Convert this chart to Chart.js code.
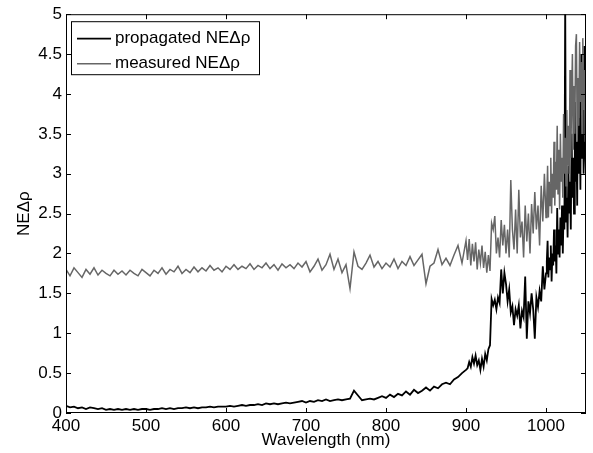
<!DOCTYPE html>
<html><head><meta charset="utf-8">
<script src="https://cdn.jsdelivr.net/npm/chart.js@4"></script>
<style>html,body{margin:0;padding:0;background:#fff}#wrap{width:593px;height:453px}</style>
</head><body><div id="wrap"><canvas id="c" width="593" height="453"></canvas></div>
<script>
const wavelengths = [
400,405,410,415,420,425,430,435,440,445,
450,455,460,465,470,475,480,485,490,495,
500,505,510,515,520,525,530,535,540,545,
550,555,560,565,570,575,580,585,590,595,
600,605,610,615,620,625,630,635,640,645,
650,655,660,665,670,675,680,685,690,695,
700,705,710,715,720,725,730,735,740,745,
750,755,760,765,770,775,780,785,790,795,
800,805,810,815,820,825,830,835,840,845,
850,855,860,865,870,875,880,885,890,895,
900,
902,904,906,908,910,912,914,916,918,920,
922,924,926,928,930,932,934,936,938,940,
942,944,946,948,950,952,954,956,958,960,
962,964,966,968,970,972,974,976,978,980,
982,984,986,988,990,992,994,996,998,1000,
1001,1002,1003,1004,1005,1006,1007,1008,1009,1010,
1011,1012,1013,1014,1015,1016,1017,1018,1019,1020,
1021,1022,1023,1024,1025,1026,1027,1028,1029,1030,
1031,1032,1033,1034,1035,1036,1037,1038,1039,1040,
1041,1042,1043,1044,1045,1046,1047,1048,1049,1050];

const propagated = [
0.09,0.07,0.08,0.06,0.07,0.05,0.07,0.06,0.05,0.06,
0.04,0.05,0.04,0.05,0.04,0.05,0.04,0.05,0.04,0.05,
0.05,0.04,0.05,0.05,0.06,0.05,0.06,0.05,0.06,0.06,
0.07,0.06,0.07,0.06,0.07,0.07,0.08,0.07,0.08,0.08,
0.08,0.09,0.08,0.09,0.10,0.09,0.10,0.10,0.11,0.10,
0.12,0.11,0.12,0.11,0.12,0.13,0.12,0.13,0.14,0.15,
0.13,0.15,0.14,0.16,0.15,0.17,0.15,0.16,0.17,0.16,
0.17,0.18,0.28,0.22,0.16,0.17,0.18,0.17,0.19,0.21,
0.19,0.23,0.20,0.24,0.22,0.27,0.23,0.29,0.25,0.28,
0.32,0.28,0.33,0.31,0.36,0.38,0.36,0.42,0.45,0.50,
0.54,
0.56,0.64,0.58,0.70,0.62,0.72,0.60,0.66,0.54,0.68,
0.58,0.74,0.66,0.80,0.85,1.43,1.35,1.42,1.30,1.45,
1.38,1.80,1.50,1.76,1.62,1.40,1.55,1.26,1.34,1.10,
1.30,1.22,1.35,1.06,1.28,1.20,1.71,0.93,1.40,1.25,
1.50,1.30,0.93,1.45,1.33,1.53,1.40,1.84,1.55,1.75,
1.90,2.16,1.70,1.95,1.80,2.10,1.65,2.00,1.85,2.30,
1.90,2.10,1.75,2.57,2.00,2.30,1.95,2.45,2.10,2.60,
2.00,2.55,2.30,5.20,2.40,2.70,2.20,3.10,2.50,2.90,
2.30,3.50,2.70,3.20,2.50,3.90,2.90,3.40,2.60,4.20,
3.00,3.70,2.80,4.50,3.20,4.00,3.00,4.60,3.30,3.00];

const measured = [
1.80,1.72,1.82,1.76,1.70,1.80,1.74,1.82,1.73,1.79,
1.75,1.72,1.79,1.74,1.78,1.73,1.79,1.75,1.72,1.80,
1.76,1.72,1.79,1.75,1.82,1.74,1.80,1.77,1.84,1.75,
1.80,1.76,1.83,1.77,1.82,1.78,1.85,1.79,1.82,1.77,
1.84,1.80,1.86,1.80,1.84,1.81,1.87,1.80,1.85,1.82,
1.88,1.81,1.86,1.79,1.87,1.82,1.86,1.81,1.88,1.83,
1.90,1.77,1.84,1.93,1.79,1.86,1.99,1.80,1.93,1.76,
1.86,1.56,2.02,1.84,1.80,1.88,1.98,1.83,1.90,1.81,
1.88,1.83,1.93,1.81,1.90,1.85,1.96,1.85,1.92,1.99,
1.62,1.84,1.88,2.05,1.86,1.94,1.85,1.98,2.10,1.88,
2.16,
1.92,2.18,1.85,2.12,1.90,2.14,1.80,2.05,1.88,2.10,
1.82,2.02,1.76,1.98,1.78,2.38,2.30,2.47,2.00,2.20,
1.95,2.42,2.10,2.36,2.00,2.30,1.95,2.92,2.30,2.05,
2.55,2.00,2.80,2.20,2.40,1.95,2.60,2.15,2.50,2.00,
2.62,2.25,2.77,2.30,2.60,2.10,2.85,2.40,3.00,2.45,
2.70,3.10,2.45,2.90,2.60,3.20,2.50,3.00,2.70,3.40,
2.60,3.15,2.80,3.60,2.75,3.30,2.55,3.50,2.90,3.20,
2.70,3.75,3.00,3.45,2.85,3.80,3.10,3.60,3.00,4.30,
3.20,3.90,4.50,3.30,4.10,3.50,4.60,4.75,3.40,4.20,
3.60,4.65,3.90,4.40,3.50,4.70,3.80,4.30,3.40,4.00];

const xTicks = [400,500,600,700,800,900,1000];
const yTicks = [0,0.5,1,1.5,2,2.5,3,3.5,4,4.5,5];
const seriesNames = ['propagated NE\u0394\u03c1','measured NE\u0394\u03c1'];
const seriesColors = ['#000000','#666666'];
const seriesWidths = [1.8,1.5];

const FONT = "'Liberation Sans', Arial, Helvetica, sans-serif";
Chart.defaults.font.family = FONT;
Chart.defaults.font.size = 17;
Chart.defaults.color = '#000';

const toPts = arr => arr.map((v,i)=>({x:wavelengths[i], y:v}));

const framePlugin = {
  id:'frame',
  afterDraw(chart){
    const {ctx, chartArea:a, scales:{x,y}} = chart;
    ctx.save();
    ctx.strokeStyle='#000'; ctx.lineWidth=1;
    ctx.strokeRect(a.left+0.5, a.top+0.5, a.right-a.left-1, a.bottom-a.top-1);
    ctx.beginPath();
    xTicks.forEach(v=>{const px=Math.round(x.getPixelForValue(v))+0.5;
      ctx.moveTo(px,a.bottom); ctx.lineTo(px,a.bottom-5);
      ctx.moveTo(px,a.top); ctx.lineTo(px,a.top+5);});
    yTicks.forEach(v=>{const py=Math.round(y.getPixelForValue(v))+0.5;
      ctx.moveTo(a.left,py); ctx.lineTo(a.left+5,py);
      ctx.moveTo(a.right,py); ctx.lineTo(a.right-5,py);});
    ctx.stroke();
    // legend
    const bx=a.left+5, by=a.top+7, bw=188, bh=53;
    ctx.fillStyle='#fff';
    ctx.fillRect(bx,by,bw,bh);
    ctx.strokeRect(bx+0.5,by+0.5,bw,bh);
    ctx.font = '17px '+FONT;
    ctx.textBaseline='middle';
    ctx.textAlign='left';
    seriesNames.forEach((n,i)=>{
      const ry = by + 17 + i*25;
      ctx.strokeStyle = seriesColors[i];
      ctx.lineWidth = seriesWidths[i];
      ctx.beginPath(); ctx.moveTo(bx+6, ry+0.5); ctx.lineTo(bx+40, ry+0.5); ctx.stroke();
      ctx.fillStyle='#000';
      ctx.fillText(n, bx+44, ry);
    });
    ctx.restore();
  }
};

new Chart(document.getElementById('c'), {
  type:'line',
  data:{
    datasets:[
      {label:seriesNames[0], data:toPts(propagated), borderColor:seriesColors[0], borderWidth:seriesWidths[0], pointRadius:0, tension:0, fill:false, order:1},
      {label:seriesNames[1], data:toPts(measured), borderColor:seriesColors[1], borderWidth:seriesWidths[1], pointRadius:0, tension:0, fill:false, order:0}
    ]
  },
  options:{
    responsive:false, animation:false, devicePixelRatio:1,
    layout:{padding:{top:13,right:7,left:0,bottom:0}},
    plugins:{legend:{display:false}, tooltip:{enabled:false}},
    scales:{
      x:{type:'linear', min:400, max:1050,
        afterBuildTicks:s=>{s.ticks = xTicks.map(v=>({value:v}));},
        afterFit:s=>{s.height=40;},
        grid:{display:false, drawTicks:false}, border:{display:false},
        ticks:{autoSkip:false, maxRotation:0, padding:3, callback:v=>String(v)},
        title:{display:true, text:'Wavelength (nm)', padding:{top:0,bottom:2}}
      },
      y:{type:'linear', min:0, max:5,
        afterBuildTicks:s=>{s.ticks = yTicks.map(v=>({value:v}));},
        afterFit:s=>{s.width=66;},
        grid:{display:false, drawTicks:false}, border:{display:false},
        ticks:{autoSkip:false, padding:4, callback:v=>String(v)},
        title:{display:true, text:'NE\u0394\u03c1', padding:{top:14,bottom:0}}
      }
    }
  },
  plugins:[framePlugin]
});
</script>
</body></html>
